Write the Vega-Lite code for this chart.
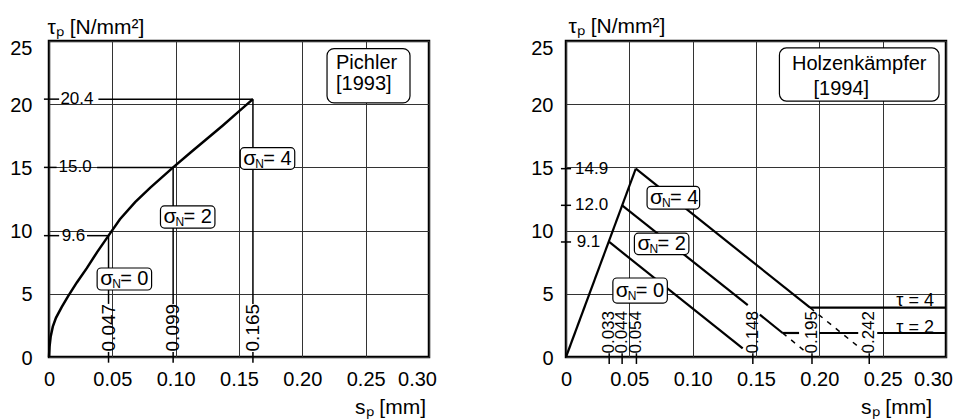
{
  "$schema": "https://vega.github.io/schema/vega-lite/v6.json",
  "background": "white",
  "padding": {"left": 8, "top": 13, "right": 5, "bottom": 2},
  "bounds": "flush",
  "spacing": 137,
  "config": {
    "font": "Liberation Sans",
    "view": {"stroke": "black", "strokeWidth": 2.5},
    "axis": {
      "domain": false, "ticks": false, "tickSize": 0, "grid": true,
      "gridColor": "#333", "gridWidth": 1,
      "labelFont": "Liberation Sans", "labelFontSize": 20, "labelColor": "black",
      "titleFont": "Liberation Sans", "titleFontSize": 21, "titleFontWeight": "normal", "titleColor": "black",
      "labelOverlap": false, "labelFlush": false, "labelBound": false
    },
    "text": {"font": "Liberation Sans", "color": "black"}
  },
  "datasets": {
    "curveL": [
      {"s": 0, "t": 0}, {"s": 0.0004, "t": 0.8}, {"s": 0.0013, "t": 1.6}, {"s": 0.003, "t": 2.4},
      {"s": 0.0055, "t": 3.1}, {"s": 0.01, "t": 3.95}, {"s": 0.015, "t": 4.8}, {"s": 0.022, "t": 5.9},
      {"s": 0.03, "t": 7.05}, {"s": 0.038, "t": 8.3}, {"s": 0.047, "t": 9.6}, {"s": 0.056, "t": 10.9},
      {"s": 0.068, "t": 12.25}, {"s": 0.08, "t": 13.4}, {"s": 0.098, "t": 15.0}, {"s": 0.112, "t": 16.2},
      {"s": 0.1245, "t": 17.25}, {"s": 0.137, "t": 18.3}, {"s": 0.149, "t": 19.35}, {"s": 0.161, "t": 20.4}
    ],
    "segL": [
      {"s1": -0.004, "t1": 20.4, "s2": 0.008, "t2": 20.4},
      {"s1": 0.039, "t1": 20.4, "s2": 0.161, "t2": 20.4},
      {"s1": -0.004, "t1": 15, "s2": 0.006, "t2": 15},
      {"s1": 0.038, "t1": 15, "s2": 0.098, "t2": 15},
      {"s1": -0.004, "t1": 9.6, "s2": 0.008, "t2": 9.6},
      {"s1": 0.03, "t1": 9.6, "s2": 0.047, "t2": 9.6},
      {"s1": 0.047, "t1": -0.45, "s2": 0.047, "t2": 0.4},
      {"s1": 0.047, "t1": 4.2, "s2": 0.047, "t2": 9.6},
      {"s1": 0.098, "t1": -0.45, "s2": 0.098, "t2": 0.4},
      {"s1": 0.098, "t1": 4.2, "s2": 0.098, "t2": 15},
      {"s1": 0.161, "t1": -0.45, "s2": 0.161, "t2": 0.4},
      {"s1": 0.161, "t1": 4.2, "s2": 0.161, "t2": 20.4}
    ],
    "numL": [
      {"s": 0.009, "t": 20.4, "txt": "20.4"},
      {"s": 0.0075, "t": 15, "txt": "15.0"},
      {"s": 0.01, "t": 9.6, "txt": "9.6"}
    ],
    "rotL": [
      {"s": 0.047, "t": 4.2, "txt": "0.047"},
      {"s": 0.098, "t": 4.2, "txt": "0.099"},
      {"s": 0.161, "t": 4.2, "txt": "0.165"}
    ],
    "boxL": [
      {"x1": 0.151, "x2": 0.194, "y1": 14.85, "y2": 16.56, "ty": 15.7, "k": "= 4"},
      {"x1": 0.088, "x2": 0.131, "y1": 10.2, "y2": 11.95, "ty": 11.07, "k": "= 2"},
      {"x1": 0.038, "x2": 0.081, "y1": 5.3, "y2": 7.04, "ty": 6.17, "k": "= 0"}
    ],
    "srcBoxL": [{"x1": 0.2195, "x2": 0.285, "y1": 20.1, "y2": 24.4}],
    "srcTxtL": [
      {"s": 0.2266, "t": 23.28, "txt": "Pichler"},
      {"s": 0.2266, "t": 21.57, "txt": "[1993]"}
    ],
    "segR": [
      {"k": "main", "s1": 0, "t1": 0, "s2": 0.0551, "t2": 14.9},
      {"k": "main", "s1": 0.0551, "t1": 14.9, "s2": 0.1927, "t2": 3.9},
      {"k": "main", "s1": 0.1927, "t1": 3.9, "s2": 0.3, "t2": 3.9},
      {"k": "main", "s1": 0.0443, "t1": 12.0, "s2": 0.1435, "t2": 4.1},
      {"k": "main", "s1": 0.153, "t1": 3.35, "s2": 0.171, "t2": 1.9},
      {"k": "main", "s1": 0.171, "t1": 1.9, "s2": 0.184, "t2": 1.9},
      {"k": "main", "s1": 0.2, "t1": 1.9, "s2": 0.2307, "t2": 1.9},
      {"k": "main", "s1": 0.2457, "t1": 1.9, "s2": 0.3, "t2": 1.9},
      {"k": "main", "s1": 0.0341, "t1": 9.1, "s2": 0.1395, "t2": 0.68},
      {"k": "dash", "s1": 0.1927, "t1": 3.9, "s2": 0.2335, "t2": 0.6},
      {"k": "dash", "s1": 0.171, "t1": 1.9, "s2": 0.1875, "t2": 0.55},
      {"k": "thin", "s1": 0.0341, "t1": -0.55, "s2": 0.0341, "t2": 0.3},
      {"k": "thin", "s1": 0.0443, "t1": -0.55, "s2": 0.0443, "t2": 0.3},
      {"k": "thin", "s1": 0.0556, "t1": -0.55, "s2": 0.0556, "t2": 0.3},
      {"k": "thin", "s1": 0.1475, "t1": -0.55, "s2": 0.1475, "t2": 0.3},
      {"k": "thin", "s1": 0.1942, "t1": -0.55, "s2": 0.1942, "t2": 0.3},
      {"k": "thin", "s1": 0.2394, "t1": -0.55, "s2": 0.2394, "t2": 0.3},
      {"k": "thin", "s1": -0.004, "t1": 14.9, "s2": 0.004, "t2": 14.9},
      {"k": "thin", "s1": -0.004, "t1": 12.0, "s2": 0.004, "t2": 12.0},
      {"k": "thin", "s1": -0.004, "t1": 9.1, "s2": 0.004, "t2": 9.1}
    ],
    "numR": [
      {"s": 0.0071, "t": 14.9, "txt": "14.9"},
      {"s": 0.0071, "t": 12.0, "txt": "12.0"},
      {"s": 0.0084, "t": 9.1, "txt": "9.1"}
    ],
    "rotR": [
      {"s": 0.0341, "t": 3.64, "txt": "0.033"},
      {"s": 0.0443, "t": 3.64, "txt": "0.044"},
      {"s": 0.0556, "t": 3.64, "txt": "0.054"},
      {"s": 0.1475, "t": 3.64, "txt": "0.148"},
      {"s": 0.1942, "t": 3.64, "txt": "0.195"},
      {"s": 0.2394, "t": 3.64, "txt": "0.242"}
    ],
    "boxR": [
      {"x1": 0.064, "x2": 0.1055, "y1": 11.7, "y2": 13.5, "ty": 12.6, "k": "= 4"},
      {"x1": 0.054, "x2": 0.097, "y1": 8.1, "y2": 9.8, "ty": 8.95, "k": "= 2"},
      {"x1": 0.037, "x2": 0.08, "y1": 4.27, "y2": 6.25, "ty": 5.26, "k": "= 0"}
    ],
    "tauR": [
      {"s": 0.2756, "t": 4.43, "txt": "τ = 4"},
      {"s": 0.2756, "t": 2.32, "txt": "τ = 2"}
    ],
    "srcBoxR": [{"x1": 0.1685, "x2": 0.2945, "y1": 20.25, "y2": 24.45}],
    "srcTxtR": [
      {"s": 0.2315, "t": 23.2, "txt": "Holzenkämpfer"},
      {"s": 0.2173, "t": 21.2, "txt": "[1994]"}
    ]
  },
  "hconcat": [
    {
      "width": 380,
      "height": 316,
      "layer": [
        {
          "data": {"name": "segL"},
          "mark": {"type": "rule", "color": "black", "strokeWidth": 1.5},
          "encoding": {
            "x": {"field": "s1", "type": "quantitative",
              "scale": {"domain": [0, 0.3], "nice": false, "zero": false},
              "axis": {"values": [0, 0.05, 0.1, 0.15, 0.2, 0.25, 0.3],
                "labelExpr": "datum.value == 0 ? '0' : format(datum.value, '.2f')",
                "title": "sₚ [mm]", "titleX": 341, "titleY": 50, "titleAlign": "center", "titleBaseline": "middle",
                "labelPadding": 12,
                "labelOffset": {"condition": {"test": "datum.value == 0.3", "value": -12}, "value": 0}}},
            "y": {"field": "t1", "type": "quantitative",
              "scale": {"domain": [0, 25], "nice": false, "zero": false},
              "axis": {"values": [0, 5, 10, 15, 20, 25],
                "title": "τₚ [N/mm²]", "titleAngle": 0, "titleX": -2, "titleY": -14,
                "titleAlign": "left", "titleBaseline": "middle",
                "labelPadding": 17,
                "labelOffset": {"condition": {"test": "datum.value == 25", "value": 7}, "value": 1}}},
            "x2": {"field": "s2"},
            "y2": {"field": "t2"}
          }
        },
        {
          "data": {"name": "curveL"},
          "mark": {"type": "line", "color": "black", "strokeWidth": 2.5},
          "encoding": {
            "x": {"field": "s", "type": "quantitative"},
            "y": {"field": "t", "type": "quantitative"}
          }
        },
        {
          "data": {"name": "rotL"},
          "mark": {"type": "text", "angle": 270, "align": "right", "baseline": "middle", "fontSize": 19},
          "encoding": {
            "x": {"field": "s", "type": "quantitative"},
            "y": {"field": "t", "type": "quantitative"},
            "text": {"field": "txt"}
          }
        },
        {
          "data": {"name": "numL"},
          "mark": {"type": "text", "align": "left", "baseline": "middle", "fontSize": 17},
          "encoding": {
            "x": {"field": "s", "type": "quantitative"},
            "y": {"field": "t", "type": "quantitative"},
            "text": {"field": "txt"}
          }
        },
        {
          "data": {"name": "boxL"},
          "mark": {"type": "rect", "fill": "white", "stroke": "black", "strokeWidth": 1.2, "cornerRadius": 4},
          "encoding": {
            "x": {"field": "x1", "type": "quantitative"}, "x2": {"field": "x2"},
            "y": {"field": "y1", "type": "quantitative"}, "y2": {"field": "y2"}
          }
        },
        {
          "data": {"name": "boxL"},
          "mark": {"type": "text", "text": "σ", "align": "left", "baseline": "middle", "fontSize": 21, "dx": 3},
          "encoding": {
            "x": {"field": "x1", "type": "quantitative"},
            "y": {"field": "ty", "type": "quantitative"}
          }
        },
        {
          "data": {"name": "boxL"},
          "mark": {"type": "text", "text": "N", "align": "left", "baseline": "middle", "fontSize": 12, "dx": 15, "dy": 5},
          "encoding": {
            "x": {"field": "x1", "type": "quantitative"},
            "y": {"field": "ty", "type": "quantitative"}
          }
        },
        {
          "data": {"name": "boxL"},
          "mark": {"type": "text", "align": "left", "baseline": "middle", "fontSize": 20, "dx": 23},
          "encoding": {
            "x": {"field": "x1", "type": "quantitative"},
            "y": {"field": "ty", "type": "quantitative"},
            "text": {"field": "k"}
          }
        },
        {
          "data": {"name": "srcBoxL"},
          "mark": {"type": "rect", "fill": "white", "stroke": "black", "strokeWidth": 1.2, "cornerRadius": 7},
          "encoding": {
            "x": {"field": "x1", "type": "quantitative"}, "x2": {"field": "x2"},
            "y": {"field": "y1", "type": "quantitative"}, "y2": {"field": "y2"}
          }
        },
        {
          "data": {"name": "srcTxtL"},
          "mark": {"type": "text", "align": "left", "baseline": "middle", "fontSize": 20},
          "encoding": {
            "x": {"field": "s", "type": "quantitative"},
            "y": {"field": "t", "type": "quantitative"},
            "text": {"field": "txt"}
          }
        }
      ]
    },
    {
      "width": 380,
      "height": 316,
      "layer": [
        {
          "data": {"name": "segR"},
          "transform": [{"filter": "datum.k == 'thin'"}],
          "mark": {"type": "rule", "color": "black", "strokeWidth": 1.5},
          "encoding": {
            "x": {"field": "s1", "type": "quantitative",
              "scale": {"domain": [0, 0.3], "nice": false, "zero": false},
              "axis": {"values": [0, 0.05, 0.1, 0.15, 0.2, 0.25, 0.3],
                "labelExpr": "datum.value == 0 ? '0' : format(datum.value, '.2f')",
                "title": "sₚ [mm]", "titleX": 330, "titleY": 50, "titleAlign": "center", "titleBaseline": "middle",
                "labelPadding": 12,
                "labelOffset": {"condition": {"test": "datum.value == 0.3", "value": -13}, "value": 0}}},
            "y": {"field": "t1", "type": "quantitative",
              "scale": {"domain": [0, 25], "nice": false, "zero": false},
              "axis": {"values": [0, 5, 10, 15, 20, 25],
                "title": "τₚ [N/mm²]", "titleAngle": 0, "titleX": 2, "titleY": -15,
                "titleAlign": "left", "titleBaseline": "middle",
                "labelPadding": 13,
                "labelOffset": {"condition": {"test": "datum.value == 25", "value": 7}, "value": 1}}},
            "x2": {"field": "s2"},
            "y2": {"field": "t2"}
          }
        },
        {
          "data": {"name": "segR"},
          "transform": [{"filter": "datum.k == 'dash'"}],
          "mark": {"type": "rule", "color": "black", "strokeWidth": 1.5, "strokeDash": [5, 6]},
          "encoding": {
            "x": {"field": "s1", "type": "quantitative"}, "x2": {"field": "s2"},
            "y": {"field": "t1", "type": "quantitative"}, "y2": {"field": "t2"}
          }
        },
        {
          "data": {"name": "segR"},
          "transform": [{"filter": "datum.k == 'main'"}],
          "mark": {"type": "rule", "color": "black", "strokeWidth": 2.2},
          "encoding": {
            "x": {"field": "s1", "type": "quantitative"}, "x2": {"field": "s2"},
            "y": {"field": "t1", "type": "quantitative"}, "y2": {"field": "t2"}
          }
        },
        {
          "data": {"name": "rotR"},
          "mark": {"type": "text", "angle": 270, "align": "right", "baseline": "middle", "fontSize": 17},
          "encoding": {
            "x": {"field": "s", "type": "quantitative"},
            "y": {"field": "t", "type": "quantitative"},
            "text": {"field": "txt"}
          }
        },
        {
          "data": {"name": "numR"},
          "mark": {"type": "text", "align": "left", "baseline": "middle", "fontSize": 17},
          "encoding": {
            "x": {"field": "s", "type": "quantitative"},
            "y": {"field": "t", "type": "quantitative"},
            "text": {"field": "txt"}
          }
        },
        {
          "data": {"name": "tauR"},
          "mark": {"type": "text", "align": "center", "baseline": "middle", "fontSize": 18},
          "encoding": {
            "x": {"field": "s", "type": "quantitative"},
            "y": {"field": "t", "type": "quantitative"},
            "text": {"field": "txt"}
          }
        },
        {
          "data": {"name": "boxR"},
          "mark": {"type": "rect", "fill": "white", "stroke": "black", "strokeWidth": 1.2, "cornerRadius": 4},
          "encoding": {
            "x": {"field": "x1", "type": "quantitative"}, "x2": {"field": "x2"},
            "y": {"field": "y1", "type": "quantitative"}, "y2": {"field": "y2"}
          }
        },
        {
          "data": {"name": "boxR"},
          "mark": {"type": "text", "text": "σ", "align": "left", "baseline": "middle", "fontSize": 21, "dx": 3},
          "encoding": {
            "x": {"field": "x1", "type": "quantitative"},
            "y": {"field": "ty", "type": "quantitative"}
          }
        },
        {
          "data": {"name": "boxR"},
          "mark": {"type": "text", "text": "N", "align": "left", "baseline": "middle", "fontSize": 12, "dx": 15, "dy": 5},
          "encoding": {
            "x": {"field": "x1", "type": "quantitative"},
            "y": {"field": "ty", "type": "quantitative"}
          }
        },
        {
          "data": {"name": "boxR"},
          "mark": {"type": "text", "align": "left", "baseline": "middle", "fontSize": 20, "dx": 23},
          "encoding": {
            "x": {"field": "x1", "type": "quantitative"},
            "y": {"field": "ty", "type": "quantitative"},
            "text": {"field": "k"}
          }
        },
        {
          "data": {"name": "srcBoxR"},
          "mark": {"type": "rect", "fill": "white", "stroke": "black", "strokeWidth": 1.2, "cornerRadius": 7},
          "encoding": {
            "x": {"field": "x1", "type": "quantitative"}, "x2": {"field": "x2"},
            "y": {"field": "y1", "type": "quantitative"}, "y2": {"field": "y2"}
          }
        },
        {
          "data": {"name": "srcTxtR"},
          "mark": {"type": "text", "align": "center", "baseline": "middle", "fontSize": 20},
          "encoding": {
            "x": {"field": "s", "type": "quantitative"},
            "y": {"field": "t", "type": "quantitative"},
            "text": {"field": "txt"}
          }
        }
      ]
    }
  ]
}
